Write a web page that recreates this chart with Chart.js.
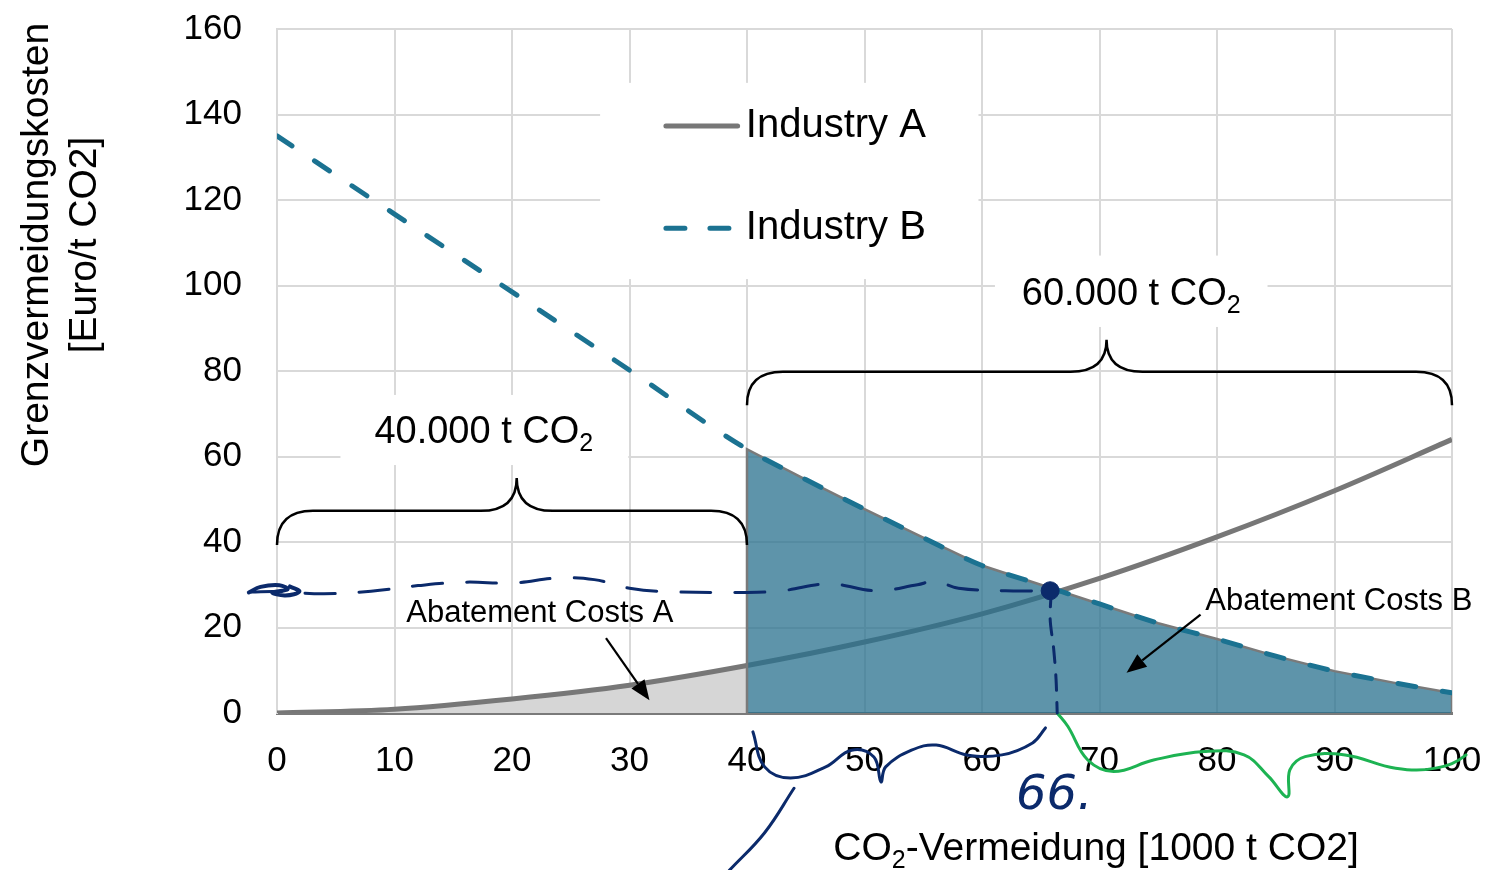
<!DOCTYPE html>
<html>
<head>
<meta charset="utf-8">
<title>Grenzvermeidungskosten</title>
<script src="https://cdn.jsdelivr.net/npm/chart.js@4.4.1/dist/chart.umd.min.js"></script>
<style>
  html, body { margin: 0; padding: 0; background: #ffffff; }
  #wrap { width: 1490px; height: 870px; }
</style>
</head>
<body>
<div id="wrap"><canvas id="abatementChart" width="1490" height="870"></canvas></div>
<script>
// x: CO2-Vermeidung [1000 t CO2], y: Grenzvermeidungskosten [Euro/t CO2]
const industryAX = [0, 10, 20, 30, 40, 50, 60, 70, 80, 90, 100];
const industryAY = [0, 0.9, 3.3, 6.5, 11.1, 16.6, 23.2, 31.5, 41.2, 52, 64];

const industryBX = [0, 10, 20, 30, 40, 45, 50, 55, 60, 65, 70, 75, 80, 85, 90, 95, 100];
const industryBY = [135, 116.7, 98.5, 80.2, 61.7, 54.6, 47.7, 41, 34.5, 30, 25.5, 21, 17.3, 13.3, 9.8, 7.1, 4.7];

const seriesLabels = ['Industry A', 'Industry B'];
const areaLabels = ['Abatement Costs A', 'Abatement Costs B'];
const quotaLabels = ['40.000 t CO', '60.000 t CO'];

const xMin = 0, xMax = 100, xStep = 10;
const yMin = 0, yMax = 160, yStep = 20;
const splitX = 40;          // abatement done by industry A
const equilibriumX = 65.8;  // handwritten intersection
const equilibriumY = 28.6;

// handwritten notes
const handLineX = [-2.2, 0, 4, 8, 12, 16, 20, 24, 27, 30, 33, 40, 43, 47, 51, 54.5, 56, 58, 62, 65.8];
const handLineY = [28.3, 28.4, 27.9, 28.5, 29.8, 30.6, 30.4, 31.6, 31.2, 29.2, 28.4, 28.2, 28.6, 30.2, 28.6, 30.0, 30.8, 29.2, 28.6, 28.6];
const handDropX = [65.9, 65.8, 66.1, 66.3, 66.4];
const handDropY = [28.6, 22, 15, 8, 0];
const handCurlX = [-2.4, -1.4, 0.2, 0.9, -0.4, 0.7, 1.9, 1.1];
const handCurlY = [28.2, 29.5, 29.9, 28.9, 28.2, 27.5, 28.4, 29.6];
const navyBraceX = [40.5, 41.5, 43.7, 46.7, 48.9, 50.8, 51.4, 51.8, 54, 56.1, 58.7, 61.7, 64.3, 65.4];
const navyBraceY = [-4.4, -12.6, -15.2, -12.6, -8.7, -10.3, -16.1, -12.6, -8.7, -7.5, -9.8, -9.8, -7.0, -3.5];
const navyStrokeX = [44, 41.5, 38.5];
const navyStrokeY = [-17.6, -28, -36.8];
const greenBraceX = [66.4, 67.3, 69, 71.2, 74.6, 78.9, 82.3, 84.4, 86, 86.2, 87.5, 90.9, 95.2, 98.6, 101.2, 102.4];
const greenBraceY = [0, -3.1, -11, -13.7, -11, -9.0, -9.8, -14.9, -19.6, -13.3, -10.2, -9.8, -12.9, -12.9, -9.8, -4.4];

const FONT = '"Liberation Sans", Arial, sans-serif';
const GREY_LINE = '#777777';
const TEAL_LINE = '#1b7291';
const NAVY = '#0b2a6b';
const GREEN = '#1db352';

const toPoints = (xs, ys) => xs.map((x, i) => ({ x: x, y: ys[i] }));

// shaded areas built from the two curves
const pointsA = toPoints(industryAX, industryAY);
const pointsB = toPoints(industryBX, industryBY);
const areaA = pointsA.filter(p => p.x <= splitX).concat([{ x: splitX, y: 0 }]);
const areaB = [{ x: splitX, y: 0 }].concat(pointsB.filter(p => p.x >= splitX), [{ x: xMax, y: 0 }]);

function drawSubText(ctx, main, sub, rest, x, y, size, align) {
  ctx.font = size + 'px ' + FONT;
  const wMain = ctx.measureText(main).width;
  const wRest = ctx.measureText(rest).width;
  ctx.font = Math.round(size * 0.65) + 'px ' + FONT;
  const wSub = ctx.measureText(sub).width;
  const total = wMain + wSub + wRest;
  let sx = align === 'center' ? x - total / 2 : x;
  ctx.textAlign = 'left';
  ctx.textBaseline = 'alphabetic';
  ctx.font = size + 'px ' + FONT;
  ctx.fillText(main, sx, y);
  ctx.font = Math.round(size * 0.65) + 'px ' + FONT;
  ctx.fillText(sub, sx + wMain, y + size * 0.2);
  ctx.font = size + 'px ' + FONT;
  ctx.fillText(rest, sx + wMain + wSub, y);
}

function drawBrace(ctx, xs, ys, x0, x1, xTip, yEnd, yBar, yTip) {
  const l = xs.getPixelForValue(x0), r = xs.getPixelForValue(x1), t = xs.getPixelForValue(xTip);
  const e = ys.getPixelForValue(yEnd), b = ys.getPixelForValue(yBar), p = ys.getPixelForValue(yTip);
  const rad = 36;
  ctx.beginPath();
  ctx.moveTo(l, e);
  ctx.quadraticCurveTo(l, b, l + rad, b);
  ctx.lineTo(t - rad, b);
  ctx.quadraticCurveTo(t, b, t, p);
  ctx.quadraticCurveTo(t, b, t + rad, b);
  ctx.lineTo(r - rad, b);
  ctx.quadraticCurveTo(r, b, r, e);
  ctx.stroke();
}

function drawArrow(ctx, x0, y0, x1, y1) {
  const ang = Math.atan2(y1 - y0, x1 - x0);
  const head = 20, half = 8;
  const bx = x1 - head * Math.cos(ang), by = y1 - head * Math.sin(ang);
  ctx.beginPath();
  ctx.moveTo(x0, y0);
  ctx.lineTo(bx, by);
  ctx.stroke();
  ctx.beginPath();
  ctx.moveTo(x1, y1);
  ctx.lineTo(bx + half * Math.sin(ang), by - half * Math.cos(ang));
  ctx.lineTo(bx - half * Math.sin(ang), by + half * Math.cos(ang));
  ctx.closePath();
  ctx.fill();
}

const notesPlugin = {
  id: 'abatementNotes',
  beforeDatasetsDraw(chart) {
    const { ctx } = chart;
    const xs = chart.scales.x, ys = chart.scales.y;
    // white boxes behind legend and quota labels [x0, x1, y0, y1]
    const boxes = [[27.5, 59.7, 101.5, 147.4], [5.4, 29.9, 58, 74.4], [61.1, 84.3, 90.3, 107]];
    ctx.save();
    ctx.fillStyle = '#ffffff';
    boxes.forEach(b => {
      const l = xs.getPixelForValue(b[0]), r = xs.getPixelForValue(b[1]);
      const t = ys.getPixelForValue(b[3]), btm = ys.getPixelForValue(b[2]);
      ctx.fillRect(l, t, r - l, btm - t);
    });
    ctx.restore();
  },
  afterDatasetsDraw(chart) {
    const { ctx } = chart;
    const xs = chart.scales.x, ys = chart.scales.y;
    const px = v => xs.getPixelForValue(v), py = v => ys.getPixelForValue(v);
    ctx.save();
    ctx.fillStyle = '#000000';
    ctx.strokeStyle = '#000000';

    // braces
    ctx.lineWidth = 2.5;
    drawBrace(ctx, xs, ys, 0, splitX, 20.4, 39.3, 47.3, 55.0);
    drawBrace(ctx, xs, ys, splitX, xMax, 70.6, 72.0, 79.8, 87.3);

    // quota labels
    drawSubText(ctx, quotaLabels[0], '2', '', px(17.6), py(63.1), 38, 'center');
    drawSubText(ctx, quotaLabels[1], '2', '', px(72.7), py(95.4), 38, 'center');

    // area labels with arrows
    ctx.font = '31px ' + FONT;
    ctx.textAlign = 'left';
    ctx.textBaseline = 'alphabetic';
    ctx.fillText(areaLabels[0], px(11.0), py(21.4));
    ctx.fillText(areaLabels[1], px(79.0), py(24.1));
    ctx.lineWidth = 2.2;
    drawArrow(ctx, px(28), py(17.5), px(31.7), py(3.0));
    drawArrow(ctx, px(78.6), py(23.0), px(72.3), py(9.4));

    // legend
    ctx.lineCap = 'round';
    ctx.lineWidth = 5;
    ctx.strokeStyle = GREY_LINE;
    ctx.beginPath();
    ctx.moveTo(px(33.1), py(137.3));
    ctx.lineTo(px(39.2), py(137.3));
    ctx.stroke();
    ctx.strokeStyle = TEAL_LINE;
    ctx.setLineDash([19, 25]);
    ctx.beginPath();
    ctx.moveTo(px(33.1), py(113.4));
    ctx.lineTo(px(39.2), py(113.4));
    ctx.stroke();
    ctx.setLineDash([]);
    ctx.font = '40px ' + FONT;
    ctx.fillStyle = '#000000';
    ctx.fillText(seriesLabels[0], px(39.9), py(134.7));
    ctx.fillText(seriesLabels[1], px(39.9), py(110.9));

    // axis titles
    ctx.save();
    ctx.translate(37, 245);
    ctx.rotate(-Math.PI / 2);
    ctx.font = '39px ' + FONT;
    ctx.textAlign = 'center';
    ctx.textBaseline = 'middle';
    ctx.fillText('Grenzvermeidungskosten', 0, 0);
    ctx.fillText('[Euro/t CO2]', 0, 48);
    ctx.restore();
    drawSubText(ctx, 'CO', '2', '-Vermeidung [1000 t CO2]', 1096, 860, 39, 'center');

    // handwritten "66."
    ctx.fillStyle = NAVY;
    ctx.font = 'italic 48px "DejaVu Sans", sans-serif';
    ctx.textAlign = 'left';
    ctx.fillText('66.', px(62.9), py(-22.5));
    ctx.restore();
  }
};

const handStyle = { pointRadius: 0, borderCapStyle: 'round', fill: false, clip: false };

new Chart(document.getElementById('abatementChart'), {
  type: 'line',
  data: {
    datasets: [
      { label: 'areaA', data: areaA, order: 7, borderColor: '#8c8c8c', borderWidth: 2,
        backgroundColor: '#d6d6d6', fill: 'origin', pointRadius: 0, tension: 0 },
      { label: seriesLabels[0], data: pointsA, order: 6, borderColor: GREY_LINE, borderWidth: 5,
        pointRadius: 0, cubicInterpolationMode: 'monotone', fill: false },
      { label: 'areaB', data: areaB, order: 5, borderColor: '#7a7a7a', borderWidth: 2.5,
        backgroundColor: 'rgba(40,112,141,0.75)', fill: 'origin', pointRadius: 0, tension: 0 },
      { label: seriesLabels[1], data: pointsB, order: 4, borderColor: TEAL_LINE, borderWidth: 5,
        borderDash: [18, 27], borderCapStyle: 'round', pointRadius: 0,
        cubicInterpolationMode: 'monotone', fill: false },
      Object.assign({ label: 'hand', data: toPoints(handLineX, handLineY), order: 3, borderColor: NAVY,
        borderWidth: 3, borderDash: [30, 24], tension: 0.4 }, handStyle),
      Object.assign({ label: 'curl', data: toPoints(handCurlX, handCurlY), order: 3, borderColor: NAVY,
        borderWidth: 4, tension: 0.4 }, handStyle),
      Object.assign({ label: 'drop', data: toPoints(handDropX, handDropY), order: 3, borderColor: NAVY,
        borderWidth: 3, borderDash: [16, 12], tension: 0.3 }, handStyle),
      Object.assign({ label: 'navyBrace', data: toPoints(navyBraceX, navyBraceY), order: 3, borderColor: NAVY,
        borderWidth: 3, tension: 0.4 }, handStyle),
      Object.assign({ label: 'navyStroke', data: toPoints(navyStrokeX, navyStrokeY), order: 3, borderColor: NAVY,
        borderWidth: 3, tension: 0.4 }, handStyle),
      Object.assign({ label: 'greenBrace', data: toPoints(greenBraceX, greenBraceY), order: 3, borderColor: GREEN,
        borderWidth: 3, tension: 0.4 }, handStyle),
      { label: 'dot', data: [{ x: equilibriumX, y: equilibriumY }], order: 1, showLine: false,
        pointRadius: 9, pointBackgroundColor: NAVY, pointBorderColor: NAVY }
    ]
  },
  options: {
    responsive: false,
    animation: false,
    layout: { padding: { top: 29, right: 38, left: 0, bottom: 0 } },
    plugins: {
      legend: { display: false },
      tooltip: { enabled: false }
    },
    scales: {
      x: {
        type: 'linear',
        min: xMin,
        max: xMax,
        afterFit: s => { s.height = 157; s.paddingLeft = 0; s.paddingRight = 0; },
        ticks: { stepSize: xStep, color: '#000000', padding: 27, font: { family: FONT, size: 35 } },
        grid: { color: '#d9d9d9', lineWidth: 2, drawTicks: false },
        border: { display: true, color: '#7a7a7a', width: 3 }
      },
      y: {
        min: yMin,
        max: yMax,
        afterFit: s => { s.width = 277; s.paddingTop = 0; s.paddingBottom = 0; },
        ticks: { stepSize: yStep, color: '#000000', padding: 35, font: { family: FONT, size: 35 } },
        grid: { color: '#d9d9d9', lineWidth: 2, drawTicks: false },
        border: { display: true, color: '#d9d9d9', width: 2 }
      }
    }
  },
  plugins: [notesPlugin]
});
</script>
</body>
</html>
